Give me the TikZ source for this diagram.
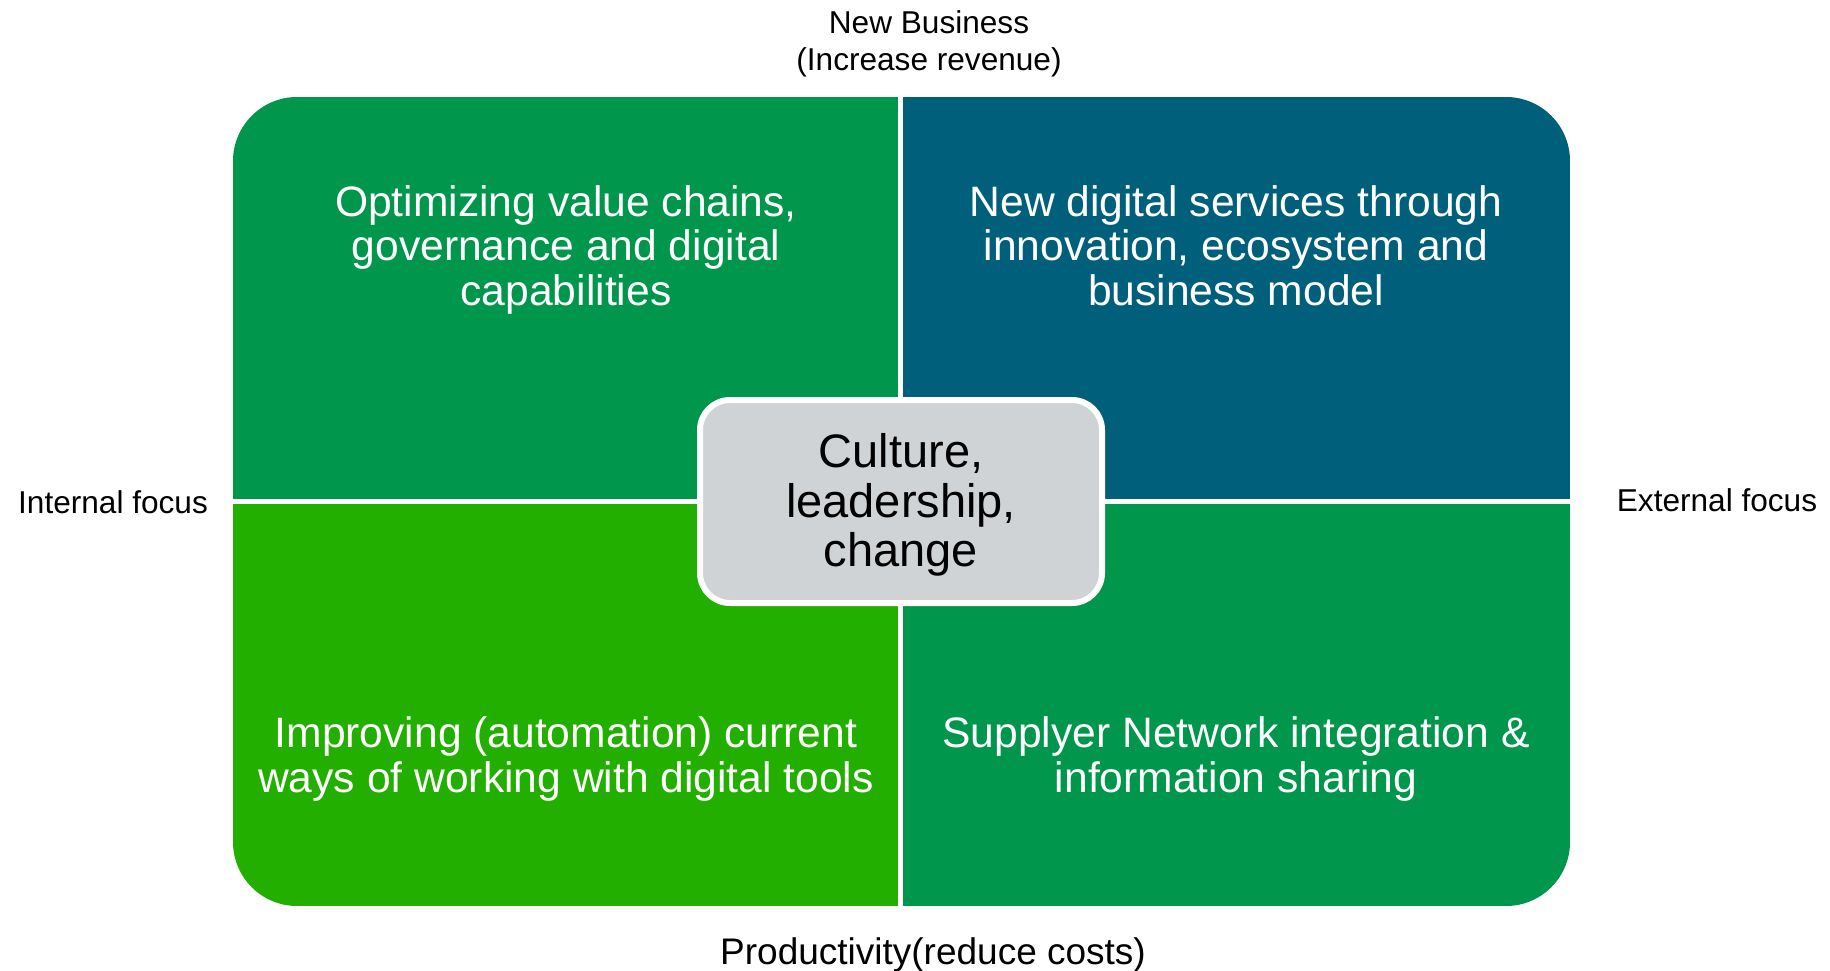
\documentclass[tikz,border=0pt]{standalone}
\usepackage{fontspec}
\setmainfont{Liberation Sans}
\definecolor{qgreen}{RGB}{0,150,75}
\definecolor{qteal}{RGB}{0,96,123}
\definecolor{qlime}{RGB}{34,175,0}
\definecolor{qgray}{RGB}{208,211,214}
\tikzset{
  quadtext/.style={text=white, align=center, inner sep=0pt, anchor=base,
    font=\fontsize{42.6}{44.5}\selectfont},
  axislabel/.style={text=black, align=center, inner sep=0pt, anchor=base,
    font=\fontsize{31.6}{37}\selectfont},
  corebox/.style={fill=qgray, draw=white, line width=6pt, rounded corners=30pt,
    minimum width=402pt, minimum height=203pt, align=center, inner sep=0pt,
    font=\fontsize{47}{49.5}\selectfont},
  divider/.style={draw=white, line width=5pt}
}
\begin{document}
\begin{tikzpicture}[x=1pt,y=-1pt]
\useasboundingbox (0,0) rectangle (1830,971);
\fill[white] (0,0) rectangle (1830,971);
\begin{scope}
  \clip[rounded corners=64pt] (233,97) rectangle (1570,906);
  \fill[qgreen] (233,97) rectangle (900,501.5);
  \fill[qteal] (900,97) rectangle (1570,501.5);
  \fill[qlime] (233,501.5) rectangle (900,906);
  \fill[qgreen] (900,501.5) rectangle (1570,906);
\end{scope}
\coordinate (dtop) at (900.5,97);
\coordinate (dbot) at (900.5,906);
\coordinate (dleft) at (233,501.5);
\coordinate (dright) at (1570,501.5);
\draw[divider] (dtop) -- (dbot);
\draw[divider] (dleft) -- (dright);

\node[quadtext] (tl) at (566,305) {Optimizing value chains,\\governance and digital\\capabilities};
\node[quadtext] (tr) at (1236,305) {New digital services through\\innovation, ecosystem and\\business model};
\node[quadtext] (bl) at (566,792) {Improving (automation) current\\ways of working with digital tools};
\node[quadtext] (br) at (1236,792) {Supplyer Network integration \&\\information sharing};

\node[corebox] (core) at (901,501.5) {\rule{0pt}{41pt}Culture,\\leadership,\\change};

\node[axislabel] (top) at (929,71) {New Business\\(Increase revenue)};
\node[axislabel] (left) at (113,513) {Internal focus};
\node[axislabel] (right) at (1717,511) {External focus};
\node[axislabel, font=\fontsize{37}{40}\selectfont] (bottom) at (933,964) {Productivity(reduce costs)};
\end{tikzpicture}
\end{document}
